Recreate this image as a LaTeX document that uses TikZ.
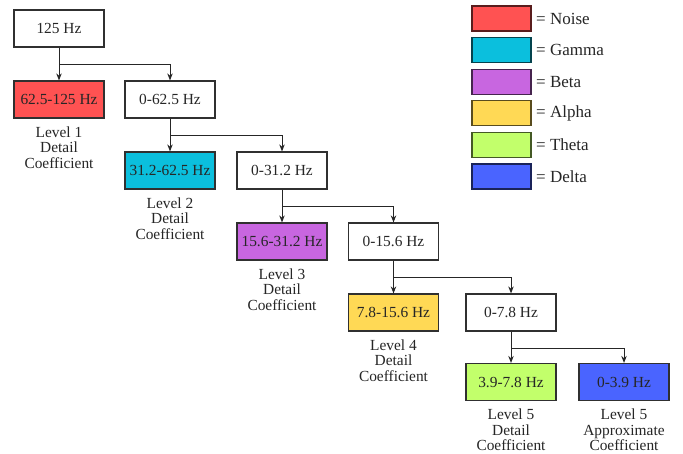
\documentclass[tikz,border=0pt]{standalone}
\usepackage{fontspec}
\setmainfont{Liberation Serif}
\usetikzlibrary{arrows.meta}
\definecolor{cNoise}{HTML}{FF5252}
\definecolor{cGamma}{HTML}{0BBFDD}
\definecolor{cBeta}{HTML}{C866E0}
\definecolor{cAlpha}{HTML}{FFD955}
\definecolor{cTheta}{HTML}{C2FF6B}
\definecolor{cDelta}{HTML}{4A64FF}
\definecolor{bordergray}{HTML}{303030}
\tikzset{
  fbox/.style={draw=bordergray, line width=1.2pt, minimum width=90pt, minimum height=37pt, inner sep=0pt, font=\fontsize{15.4}{15.5}\selectfont, text=black!85},
  lvl/.style={anchor=north, align=center, inner sep=0pt, font=\fontsize{15.4}{15.5}\selectfont, text=black!85},
  arr/.style={line width=1pt, draw=black!85, -{Stealth[length=7pt,width=5.5pt]}},
  legbox/.style={line width=1.3pt, minimum width=59pt, minimum height=25pt, inner sep=0pt},
  legtext/.style={anchor=west, inner sep=0pt, font=\fontsize{17}{17}\selectfont, text=black!85}
}
\begin{document}
\begin{tikzpicture}[x=1pt, y=-1pt]
\useasboundingbox[fill=white] (0,0) rectangle (683,453);
% row 0
\node[fbox] (r0) at (59,28.5) {125 Hz};
% row 1
\node[fbox, fill=cNoise] (d1) at (59,99.5) {62.5-125 Hz};
\node[fbox] (a1) at (170,99.5) {0-62.5 Hz};
% row 2
\node[fbox, fill=cGamma] (d2) at (170,170.5) {31.2-62.5 Hz};
\node[fbox] (a2) at (282,170.5) {0-31.2 Hz};
% row 3
\node[fbox, fill=cBeta] (d3) at (282,241.5) {15.6-31.2 Hz};
\node[fbox] (a3) at (393.5,241.5) {0-15.6 Hz};
% row 4
\node[fbox, fill=cAlpha] (d4) at (393.5,312.5) {7.8-15.6 Hz};
\node[fbox] (a4) at (511,312.5) {0-7.8 Hz};
% row 5
\node[fbox, fill=cTheta] (d5) at (511,382) {3.9-7.8 Hz};
\node[fbox, fill=cDelta] (a5) at (624,382) {0-3.9 Hz};
% connectors
\draw[arr] (r0.south) -- (d1.north);
\draw[arr] (r0.south) -- ++(0,17) -| (a1.north);
\draw[arr] (a1.south) -- (d2.north);
\draw[arr] (a1.south) -- ++(0,17) -| (a2.north);
\draw[arr] (a2.south) -- (d3.north);
\draw[arr] (a2.south) -- ++(0,17) -| (a3.north);
\draw[arr] (a3.south) -- (d4.north);
\draw[arr] (a3.south) -- ++(0,17) -| (a4.north);
\draw[arr] (a4.south) -- (d5.north);
\draw[arr] (a4.south) -- ++(0,17) -| (a5.north);
% labels
\node[lvl] (l1) at ([yshift=-8pt]d1.south) {Level 1\\Detail\\Coefficient};
\node[lvl] (l2) at ([yshift=-8pt]d2.south) {Level 2\\Detail\\Coefficient};
\node[lvl] (l3) at ([yshift=-8pt]d3.south) {Level 3\\Detail\\Coefficient};
\node[lvl] (l4) at ([yshift=-8pt]d4.south) {Level 4\\Detail\\Coefficient};
\node[lvl] (l5) at ([yshift=-8pt]d5.south) {Level 5\\Detail\\Coefficient};
\node[lvl] (l6) at ([yshift=-8pt]a5.south) {Level 5\\Approximate\\Coefficient};
% legend
\node[legbox, fill=cNoise, draw=cNoise!35!black] (k1) at (501.5,18.5) {};
\node[legbox, fill=cGamma, draw=cGamma!35!black] (k2) at (501.5,50.1) {};
\node[legbox, fill=cBeta, draw=cBeta!35!black] (k3) at (501.5,81.7) {};
\node[legbox, fill=cAlpha, draw=cAlpha!35!black] (k4) at (501.5,113.3) {};
\node[legbox, fill=cTheta, draw=cTheta!35!black] (k5) at (501.5,145) {};
\node[legbox, fill=cDelta, draw=cDelta!35!black] (k6) at (501.5,176.5) {};
\node[legtext] (t1) at (536,18.5) {= Noise};
\node[legtext] (t2) at (536,50.1) {= Gamma};
\node[legtext] (t3) at (536,81.7) {= Beta};
\node[legtext] (t4) at (536,113.3) {= Alpha};
\node[legtext] (t5) at (536,145) {= Theta};
\node[legtext] (t6) at (536,176.5) {= Delta};
\end{tikzpicture}
\end{document}
